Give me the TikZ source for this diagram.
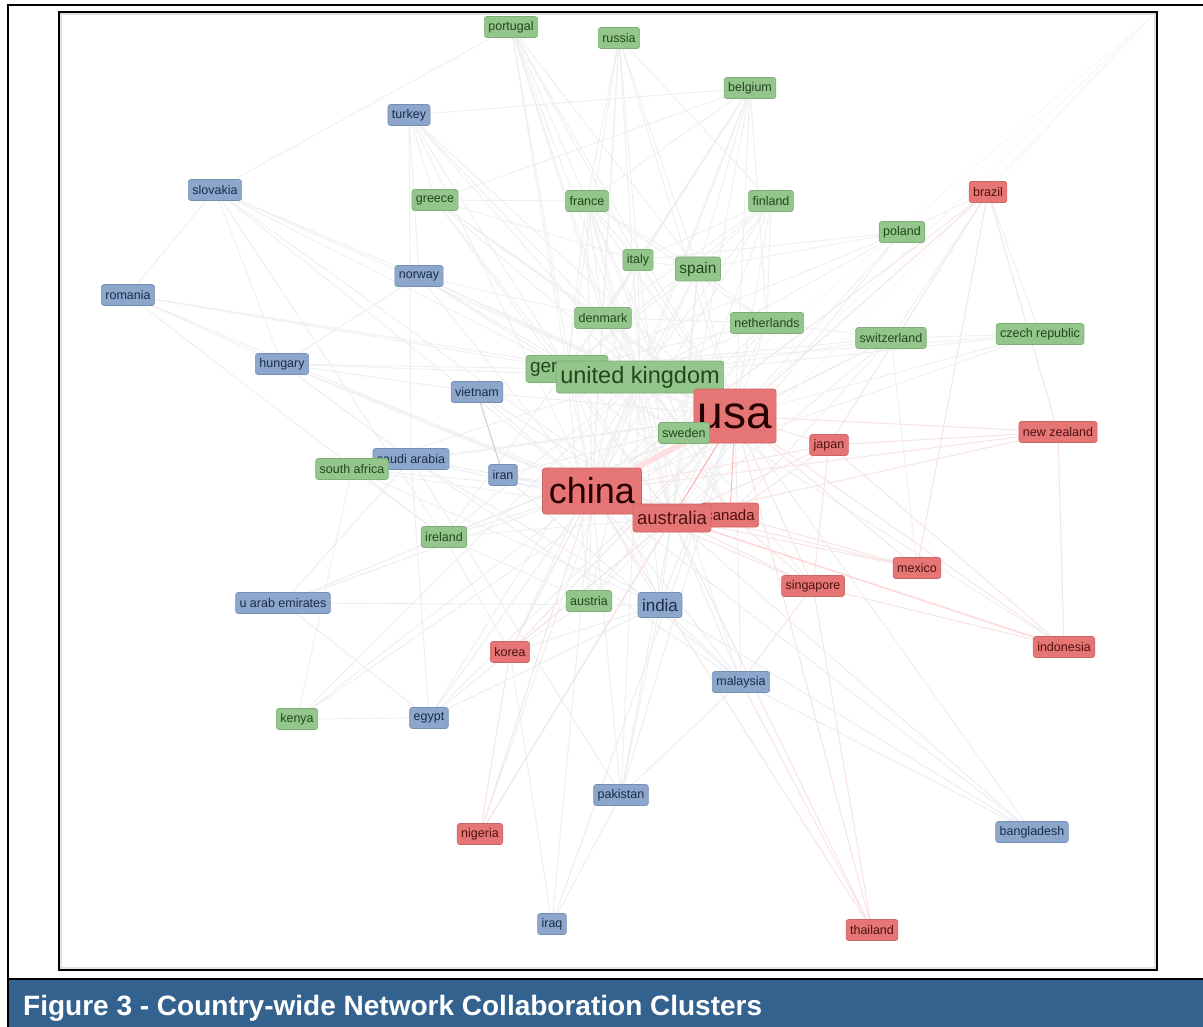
\documentclass[tikz,border=0pt]{standalone}
\usepackage{fontspec}
\setmainfont{Liberation Sans}
\definecolor{gfill}{HTML}{93C68A}
\definecolor{gline}{HTML}{7FAE77}
\definecolor{gtext}{HTML}{24461F}
\definecolor{bfill}{HTML}{8CA7CB}
\definecolor{bline}{HTML}{7690B5}
\definecolor{btext}{HTML}{1C2C4A}
\definecolor{rfill}{HTML}{E67676}
\definecolor{rline}{HTML}{CF6464}
\definecolor{rtext}{HTML}{4E1010}
\definecolor{capblue}{HTML}{34628F}
\definecolor{egray}{HTML}{EFEFEF}
\definecolor{epink}{HTML}{F9E4E4}
\definecolor{eblue}{HTML}{EAEDF3}
\pgfdeclarelayer{bglayer}
\pgfdeclarelayer{edgelayer}
\pgfsetlayers{bglayer,edgelayer,main}
\tikzset{
  nb/.style={rounded corners=2.5pt, inner xsep=4pt, inner ysep=2pt, minimum height=21pt,
    font=\fontsize{12.5}{13}\selectfont, line width=0.6pt},
  gn/.style={nb, fill=gfill, draw=gline, text=gtext},
  bn/.style={nb, fill=bfill, draw=bline, text=btext},
  rn/.style={nb, fill=rfill, draw=rline, text=rtext},
  fs/.style={font=\fontsize{#1}{#1}\selectfont},
  ge/.style={draw=egray, line width=0.9pt},
  be/.style={draw=eblue, line width=0.9pt},
  re/.style={draw=epink, line width=1pt},
}
\begin{document}
\begin{tikzpicture}[x=1pt,y=-1pt]
\useasboundingbox (0,0) rectangle (1203,1027);
\begin{pgfonlayer}{bglayer}
\fill[white] (0,0) rectangle (1203,1027);
\end{pgfonlayer}
% frames
\fill[capblue] (9,980) rectangle (1203,1027);
\draw[line width=2.5pt] (8,1027) -- (8,5) -- (1203,5);
\draw[line width=2.5pt] (8,979) -- (1203,979);
\draw[black!12, line width=1.5pt] (61,14) rectangle (1155,968);
\draw[line width=2pt] (59,12) rectangle (1157,970);
\node[anchor=base west, text=white, font=\bfseries\fontsize{28}{28}\selectfont, inner sep=0pt] (cap) at (23,1015) {Figure 3 - Country-wide Network Collaboration Clusters};

% nodes
\node[gn] (por) at (511,27) {portugal};
\node[gn] (rus) at (619,38) {russia};
\node[gn] (bel) at (750,88) {belgium};
\node[bn] (tur) at (409,115) {turkey};
\node[bn] (slo) at (215,190) {slovakia};
\node[gn] (gre) at (435,200) {greece};
\node[gn] (fra) at (587,201) {france};
\node[gn] (fin) at (771,201) {finland};
\node[rn] (bra) at (988,192) {brazil};
\node[gn] (pol) at (902,232) {poland};
\node[gn] (ita) at (638,260) {italy};
\node[gn, fs=15.5, minimum height=24pt] (spa) at (698,269) {spain};
\node[bn] (nor) at (419,276) {norway};
\node[bn] (rom) at (128,295) {romania};
\node[gn] (den) at (603,318) {denmark};
\node[gn] (net) at (767,323) {netherlands};
\node[gn] (swi) at (891,338) {switzerland};
\node[gn] (cze) at (1040,334) {czech republic};
\node[bn] (hun) at (282,364) {hungary};
\node[gn, fs=19, minimum height=27pt] (ger) at (567,369) {germany};
\node[gn, fs=23.5, minimum height=32pt] (uk) at (640,377) {united kingdom};
\node[bn] (vie) at (477,392) {vietnam};
\node[rn, fs=46, minimum height=54pt, text=black!85!red] (usa) at (735,416) {usa};
\node[gn] (swe) at (684,433) {sweden};
\node[rn] (jap) at (829,445) {japan};
\node[rn] (nz) at (1058,432) {new zealand};
\node[bn] (sau) at (411,459) {saudi arabia};
\node[gn] (saf) at (352,469) {south africa};
\node[bn] (ira) at (503,475) {iran};
\node[rn, fs=36, minimum height=46pt, inner xsep=6.5pt, text=black!85!red] (chn) at (592,491) {china};
\node[rn, fs=15, minimum height=24pt] (can) at (730,515) {canada};
\node[rn, fs=18.5, minimum height=28pt] (aus) at (672,518) {australia};
\node[gn] (irl) at (444,537) {ireland};
\node[rn] (mex) at (917,568) {mexico};
\node[rn] (sin) at (813,586) {singapore};
\node[gn] (aut) at (589,601) {austria};
\node[bn, fs=17, minimum height=25pt] (ind) at (660,605) {india};
\node[bn] (uae) at (283,603) {u arab emirates};
\node[rn] (kor) at (510,652) {korea};
\node[rn] (ins) at (1064,647) {indonesia};
\node[bn] (mal) at (741,682) {malaysia};
\node[gn] (ken) at (297,719) {kenya};
\node[bn] (egy) at (429,718) {egypt};
\node[bn] (pak) at (621,795) {pakistan};
\node[bn] (ban) at (1032,832) {bangladesh};
\node[rn] (nig) at (480,834) {nigeria};
\node[bn] (irq) at (552,924) {iraq};
\node[rn] (tha) at (872,930) {thailand};
\coordinate (tr) at (1150,18);

% edges
\begin{pgfonlayer}{edgelayer}
\foreach \p/\q in {por/ita,por/spa,por/den,por/uk,por/ger,por/fra,por/slo,por/chn,por/usa,por/aus,
  rus/fra,rus/ita,rus/uk,rus/ger,rus/usa,rus/den,rus/spa,rus/fin,rus/chn,
  bel/fra,bel/ita,bel/spa,bel/uk,bel/ger,bel/usa,bel/chn,bel/net,bel/den,bel/gre,bel/tur,bel/aus,
  tur/gre,tur/nor,tur/uk,tur/ger,tur/den,tur/usa,tur/chn,
  slo/rom,slo/hun,slo/uk,slo/ger,slo/chn,slo/irl,slo/nor,slo/aus,
  gre/uk,gre/ger,gre/ita,gre/usa,gre/den,gre/fra,gre/aus,
  fra/ita,fra/spa,fra/uk,fra/ger,fra/usa,fra/chn,fra/den,fra/net,fra/swe,fra/aus,fra/can,
  fin/ita,fin/spa,fin/uk,fin/ger,fin/swe,fin/usa,fin/net,fin/den,fin/chn,
  pol/uk,pol/ger,pol/spa,pol/usa,pol/ita,pol/aus,pol/bra,
  ita/spa,ita/uk,ita/ger,ita/usa,ita/den,ita/chn,ita/aus,
  spa/uk,spa/ger,spa/usa,spa/chn,spa/net,spa/swe,spa/aus,
  nor/hun,nor/uk,nor/ger,nor/usa,nor/den,nor/swe,nor/chn,
  rom/hun,rom/uk,rom/ger,rom/chn,rom/irl,
  den/uk,den/ger,den/usa,den/swe,den/net,den/chn,
  net/uk,net/ger,net/usa,net/swi,net/swe,net/chn,net/aus,
  swi/uk,swi/ger,swi/usa,swi/chn,swi/aus,swi/can,swi/mex,swi/bra,
  cze/uk,cze/ger,cze/usa,cze/swi,cze/chn,cze/bra,
  hun/uk,hun/ger,hun/chn,hun/aus,
  ger/uk,ger/usa,ger/chn,ger/swe,ger/aus,ger/aut,ger/irl,ger/ind,ger/can,
  uk/usa,uk/chn,uk/aus,uk/can,uk/swe,uk/ind,uk/irl,uk/saf,uk/aut,uk/mal,uk/pak,uk/nig,uk/ken,uk/egy,uk/sin,uk/kor,uk/ins,
  swe/chn,swe/aus,swe/can,
  saf/ken,saf/ind,saf/irl,saf/usa,saf/chn,saf/aus,
  irl/kor,irl/aus,irl/usa,irl/chn,irl/aut,
  aut/usa,aut/chn,aut/aus,aut/kor,
  ken/usa,ken/chn,ken/egy}
  \draw[ge] (\p) -- (\q);
\foreach \p/\q in {tr/usa,tr/chn,tr/bra,tr/aus}
  \draw[draw=black!3, line width=0.9pt] (\p) -- (\q);
\foreach \p/\q in {hun/vie,hun/sau,tur/sau,vie/chn,vie/usa,vie/aus,sau/egy,sau/ind,sau/uae,sau/pak,sau/mal,sau/usa,sau/chn,sau/aus,
  ind/mal,ind/uae,ind/egy,ind/pak,ind/ban,ind/kor,ind/usa,ind/chn,ind/aus,
  mal/pak,mal/ban,mal/ira,mal/chn,mal/usa,mal/aus,uae/egy,uae/chn,uae/usa,
  egy/chn,egy/usa,egy/aus,pak/chn,pak/usa,pak/aus,pak/irq,ban/chn,ban/usa,ban/aus,
  ira/chn,ira/usa,ira/aus,irq/chn,irq/usa,irq/kor}
  \draw[be] (\p) -- (\q);
\foreach \p/\q in {chn/aus,chn/can,chn/jap,chn/kor,chn/sin,chn/nig,chn/ins,chn/tha,chn/mex,chn/bra,chn/nz,
  usa/jap,usa/nz,usa/kor,usa/mex,usa/sin,usa/bra,usa/nig,usa/tha,usa/ins,
  aus/mex,aus/sin,aus/jap,aus/nz,aus/tha,aus/kor,aus/nig,
  can/mex,can/sin,can/jap,jap/nz,jap/sin,jap/ins,nz/ins,bra/nz,bra/mex,bra/jap,
  kor/nig,mal/tha,mal/sin,tha/sin,sin/ins}
  \draw[re] (\p) -- (\q);
\draw[draw=red!12, line width=6pt] (chn) -- (usa);
\draw[draw=red!28, line width=1pt] (usa) -- (can);
\draw[draw=red!28, line width=1pt] (usa) -- (aus);
\draw[draw=red!15, line width=1.4pt] (aus) -- (ins);
\draw[draw=black!20, line width=1pt] (vie) -- (ira);
\end{pgfonlayer}
\end{tikzpicture}
\end{document}
